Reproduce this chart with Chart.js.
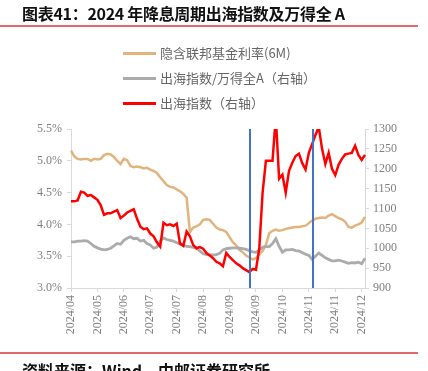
<!DOCTYPE html>
<html><head><meta charset="utf-8">
<script src="https://cdn.jsdelivr.net/npm/chart.js@4.4.1/dist/chart.umd.min.js"></script>
<style>
html,body{margin:0;padding:0;background:#fff;}
body{width:428px;height:371px;overflow:hidden;position:relative;}
#title{position:absolute;left:22px;top:1px;font:bold 16px "Noto Sans CJK SC",sans-serif;color:#111;white-space:nowrap;letter-spacing:-0.3px}
.rule{position:absolute;left:0;width:418px;height:1.5px;background:#e06a6a}
#legend{position:absolute;left:123px;top:44px}
.li{position:relative;height:25px;font:13px "Noto Sans CJK SC",sans-serif;color:#666;white-space:nowrap}
.li span.sw{position:absolute;left:0;top:8px;width:33px;height:3px}
.li span.tx{position:absolute;left:37px;top:0;line-height:17px}
#footer{position:absolute;left:22px;top:362px;font:bold 16px "Noto Sans CJK SC",sans-serif;color:#111;white-space:nowrap;line-height:16px}
canvas{position:absolute;left:0;top:0}
</style></head>
<body>
<canvas id="c" width="428" height="371"></canvas>
<div id="title">图表41：2024 年降息周期出海指数及万得全 A</div>
<div class="rule" style="top:25px"></div>
<div id="legend"></div>
<div class="rule" style="top:352px"></div>
<div id="footer">资料来源：Wind，中邮证券研究所</div>
<script>
// x-axis tick labels (one every 8 points)
const tickLabels = ['2024/04','2024/05','2024/06','2024/07','2024/07','2024/08','2024/09','2024/09','2024/10','2024/11','2024/11','2024/12'];
const tickStep = 8;
// implied fed funds rate (6M), %
const impliedRate = [
5.16,5.07,5.03,5.02,5.03,5.03,5.00,5.03,5.02,5.03,
5.09,5.11,5.10,5.06,5.00,4.95,5.03,5.01,4.92,4.90,
4.91,4.90,4.88,4.89,4.86,4.84,4.81,4.74,4.68,4.62,
4.59,4.58,4.55,4.52,4.48,4.42,3.88,3.95,3.97,4.00,
4.07,4.08,4.07,4.01,3.95,3.92,3.91,3.88,3.80,3.72,
3.67,3.60,3.56,3.51,3.48,3.45,3.47,3.53,3.58,3.68,
3.86,3.90,3.92,3.90,3.91,3.93,3.94,3.95,3.96,3.96,
3.97,3.98,4.02,4.06,4.09,4.10,4.11,4.10,4.14,4.16,
4.13,4.10,4.08,4.04,3.96,3.95,3.98,4.00,4.03,4.12];
// overseas index / Wind All A (right axis)
const ratioIndex = [
1016,1016,1018,1018,1019,1018,1012,1005,1001,998,
996,997,1000,1006,1012,1010,1020,1025,1029,1024,
1025,1018,1020,1012,1008,1000,1003,1018,1026,1022,
1020,1018,1014,1011,1008,1005,1004,1002,1000,993,
986,984,983,983,984,987,996,999,1000,1001,
1001,1000,999,997,994,991,990,995,1003,1004,
1004,1012,1024,1005,990,996,996,997,994,993,
989,985,982,972,980,988,982,976,972,968,
968,970,968,965,962,964,963,965,961,975];
// overseas index (right axis)
const overseasIndex = [
1118,1118,1120,1142,1140,1132,1134,1128,1122,1108,
1084,1088,1088,1092,1096,1076,1082,1090,1094,1098,
1074,1054,1048,1050,1037,1030,1015,1004,1064,1058,
1060,1056,1062,1012,1006,1042,1030,1008,1000,1003,
999,988,982,975,966,962,955,988,978,970,
962,957,950,945,940,948,946,1000,1140,1220,
1220,1220,1330,1175,1185,1140,1195,1215,1232,1238,
1214,1198,1240,1262,1285,1305,1250,1212,1240,1200,
1184,1210,1225,1236,1238,1240,1258,1235,1222,1235];
// Fed rate-cut dates, as positions on the category axis
const rateCuts = [54.3, 73.3];
const seriesNames = ['隐含联邦基金利率(6M)','出海指数/万得全A（右轴）','出海指数（右轴）'];
const seriesColors = ['#e0b47c','#ababab','#ff0000'];

const categories = impliedRate.map((_, i) => i % tickStep === 0 ? tickLabels[i / tickStep] : '');

// HTML legend
const lg = document.getElementById('legend');
seriesNames.forEach((n, k) => {
  const d = document.createElement('div'); d.className = 'li';
  d.innerHTML = '<span class="sw" style="background:' + seriesColors[k] + '"></span><span class="tx">' + n + '</span>';
  lg.appendChild(d);
});

const cutLines = {
  id: 'cutLines',
  afterDatasetsDraw(chart) {
    const {ctx, chartArea, scales} = chart;
    ctx.save();
    ctx.strokeStyle = '#4472c4'; ctx.lineWidth = 2;
    rateCuts.forEach(v => {
      const x = Math.round(scales.x.getPixelForValue(v));
      ctx.beginPath(); ctx.moveTo(x, chartArea.top); ctx.lineTo(x, chartArea.bottom); ctx.stroke();
    });
    ctx.restore();
  }
};

const tickFont = {family: '"Liberation Serif", serif', size: 12};
const axisGray = '#d9d9d9', labelGray = '#808080';

new Chart(document.getElementById('c'), {
  type: 'line',
  data: {
    labels: categories,
    datasets: [
      {label: seriesNames[0], data: impliedRate, yAxisID: 'y', borderColor: seriesColors[0], borderWidth: 2.5, pointRadius: 0, tension: 0, order: 3},
      {label: seriesNames[1], data: ratioIndex, yAxisID: 'y1', borderColor: seriesColors[1], borderWidth: 2.8, pointRadius: 0, tension: 0, order: 2},
      {label: seriesNames[2], data: overseasIndex, yAxisID: 'y1', borderColor: seriesColors[2], borderWidth: 2.5, pointRadius: 0, tension: 0, order: 1}
    ]
  },
  options: {
    responsive: false, animation: false, devicePixelRatio: 1,
    layout: {padding: {top: 129, left: 0, right: 0, bottom: 0}},
    plugins: {legend: {display: false}, tooltip: {enabled: false}},
    scales: {
      x: {
        type: 'category', offset: false,
        afterFit: s => { s.height = 83; },
        border: {display: true, color: axisGray, width: 1},
        grid: {drawOnChartArea: false, drawTicks: true, tickLength: 4,
               color: c => (c.index % tickStep === 0 ? axisGray : 'rgba(0,0,0,0)')},
        ticks: {autoSkip: false, maxRotation: 90, minRotation: 90, padding: 3, color: labelGray, font: tickFont}
      },
      y: {
        position: 'left', min: 3.0, max: 5.5,
        afterFit: s => { s.width = 71; },
        border: {display: true, color: axisGray, width: 1},
        grid: {drawOnChartArea: false, drawTicks: true, tickLength: 4, color: axisGray},
        ticks: {stepSize: 0.5, padding: 5, color: labelGray, font: tickFont, callback: v => v.toFixed(1) + '%'}
      },
      y1: {
        position: 'right', min: 900, max: 1300,
        afterFit: s => { s.width = 63; },
        border: {display: true, color: axisGray, width: 1},
        grid: {drawOnChartArea: false, drawTicks: true, tickLength: 4, color: axisGray},
        ticks: {stepSize: 50, padding: 4, color: labelGray, font: tickFont, callback: v => String(v)}
      }
    }
  },
  plugins: [cutLines]
});
</script>
</body></html>
